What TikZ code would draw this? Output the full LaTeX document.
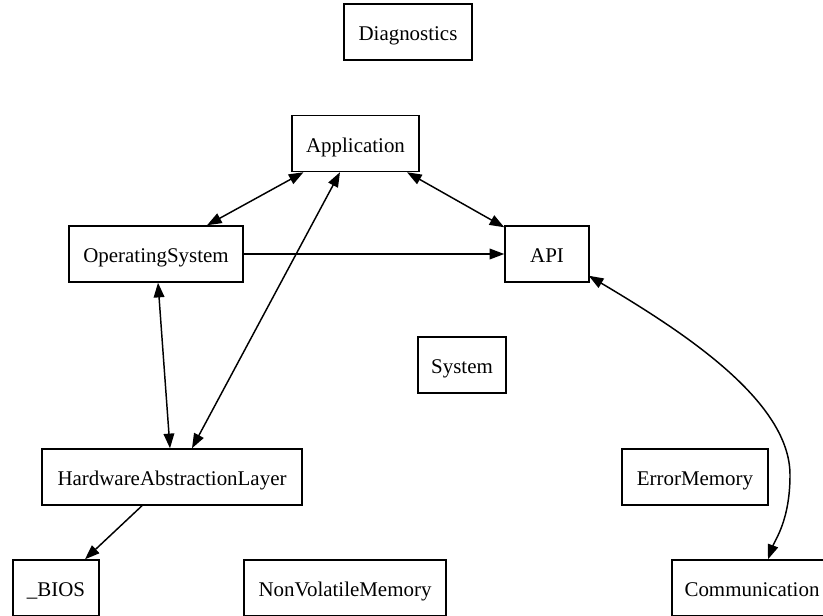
\documentclass[tikz,border=0pt]{standalone}
\usepackage{fontspec}
\setmainfont{Liberation Serif}
\usetikzlibrary{arrows.meta,calc}

\tikzset{
  box/.style={draw, line width=1.1pt, rectangle, inner sep=0pt,
    minimum height=42pt, text height=13pt, text depth=0pt,
    font=\fontsize{15.7}{18}\selectfont},
  link/.style={line width=1.1pt, -{Triangle[length=11pt,width=8pt]}},
  biglink/.style={line width=1.1pt, {Triangle[length=11pt,width=8pt]}-{Triangle[length=11pt,width=8pt]}}
}

\begin{document}
\begin{tikzpicture}[x=0.75pt, y=-0.75pt]
  \useasboundingbox (0,0) rectangle (823,616);
  \clip (0,0) rectangle (823,616);
  \fill[white] (0,0) rectangle (823,616);

  % modules
  \node[box, minimum width=96pt]    (diag) at (408,32)    {Diagnostics};
  \node[box, minimum width=95.25pt] (app)  at (355.5,143.5) {Application};
  \node[box, minimum width=130.5pt] (os)   at (156,254)   {OperatingSystem};
  \node[box, minimum width=63pt]    (api)  at (547,254)   {API};
  \node[box, minimum width=66pt]    (sys)  at (462,365)   {System};
  \node[box, minimum width=195pt]   (hal)  at (172,477)   {HardwareAbstractionLayer};
  \node[box, minimum width=109.5pt] (err)  at (695,477)   {ErrorMemory};
  \node[box, minimum width=64.5pt]  (bios) at (56,588)    {\_BIOS};
  \node[box, minimum width=151.5pt] (nvm)  at (345,588)   {NonVolatileMemory};
  \node[box, minimum width=120pt]   (comm) at (752,588)   {Communication};

  % dependencies
  \draw[biglink] ($(app.south)+(-52,0)$) -- ($(os.north)+(51,0)$);
  \draw[biglink] ($(app.south)+(-15.5,0)$) -- ($(hal.north)+(20,0)$);
  \draw[biglink] ($(app.south)+(51.5,0)$) -- ($(api.north west)+(0,2)$);
  \draw[link] (os.east) -- (api.west);
  \draw[biglink] ($(os.south)+(2,0)$) -- ($(hal.north)+(-2,0)$);
  \draw[link] ($(hal.south)+(-30,0)$) -- ($(bios.north)+(29,0)$);
  \draw[biglink] ($(api.south east)+(-1,-7)$)
      .. controls (680,330) and (790,400) .. (790,475)
      .. controls (790,520) and (775,540) .. ($(comm.north)+(16,0)$);
\end{tikzpicture}
\end{document}
